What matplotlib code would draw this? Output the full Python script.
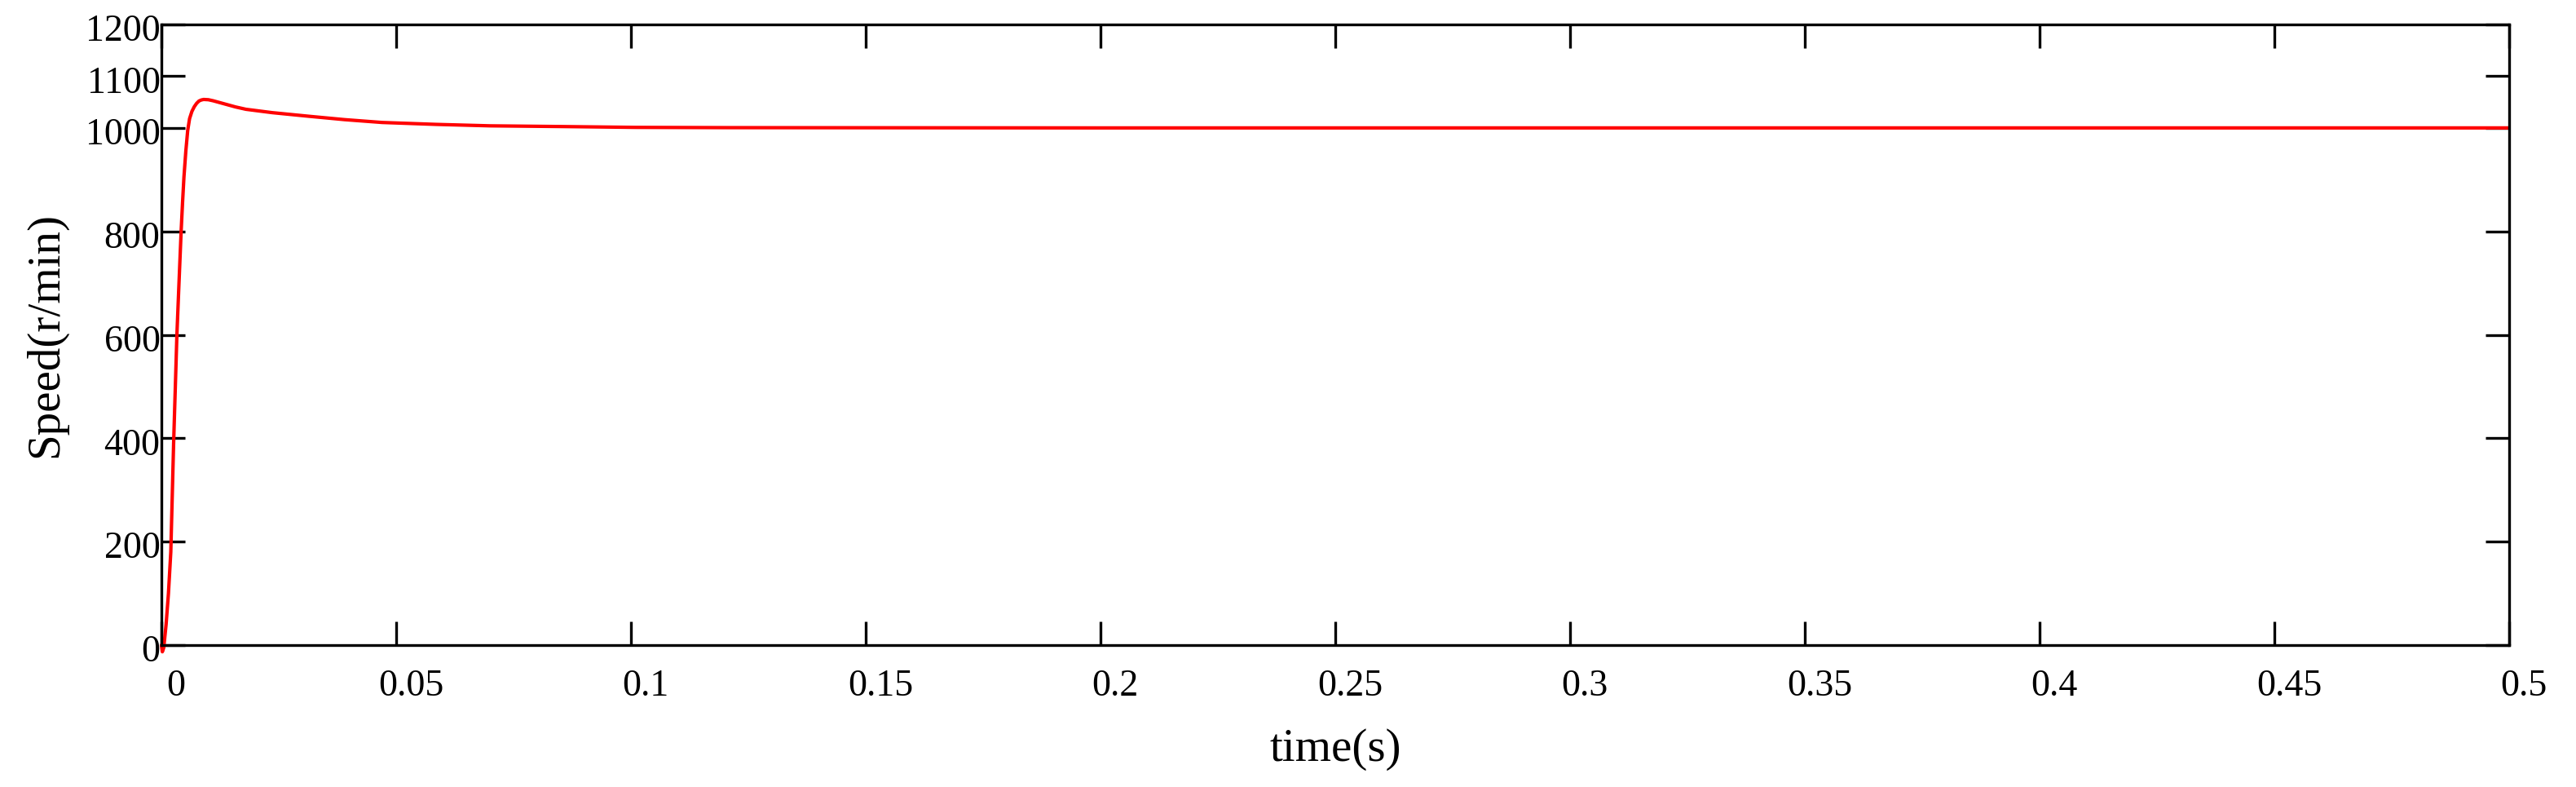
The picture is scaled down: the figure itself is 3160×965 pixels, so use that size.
import matplotlib
matplotlib.use("Agg")
import matplotlib.pyplot as plt
import matplotlib.transforms as mtransforms

# ---- data ----
time_s = [0.0, 0.0002, 0.0005, 0.001, 0.0015, 0.002, 0.0026, 0.0033, 0.0037,
          0.0042, 0.0045, 0.0048, 0.0052, 0.0056, 0.0060, 0.0065, 0.0070,
          0.0075, 0.0080, 0.0085, 0.0090, 0.0100, 0.0110, 0.0120, 0.0130,
          0.0140, 0.0158, 0.0180, 0.0236, 0.0314, 0.0390, 0.0470, 0.0585,
          0.0700, 0.0856, 0.1010, 0.1210, 0.20, 0.30, 0.40, 0.50]
speed_rpm = [0, -13, -5, 40, 100, 180, 390, 600, 690,
             800, 855, 905, 955, 995, 1018, 1032, 1041,
             1047.5, 1052, 1054, 1055, 1054.5, 1052.5, 1050, 1047.5,
             1045, 1040.5, 1036, 1029.5, 1022.5, 1016, 1010.5, 1006.8,
             1004, 1002.6, 1001, 1000.5, 1000, 1000, 1000, 1000]

x_ticks = [0, 0.05, 0.1, 0.15, 0.2, 0.25, 0.3, 0.35, 0.4, 0.45, 0.5]
x_tick_labels = ["0", "0.05", "0.1", "0.15", "0.2", "0.25", "0.3", "0.35",
                 "0.4", "0.45", "0.5"]
y_ticks = [0, 200, 400, 600, 800, 1000, 1100, 1200]
y_tick_labels = ["0", "200", "400", "600", "800", "1000", "1100", "1200"]

x_label = "time(s)"
y_label = "Speed(r/min)"

# ---- figure ----
W, H, DPI = 3160, 965, 100
fig = plt.figure(figsize=(W / DPI, H / DPI), dpi=DPI)
plt.rcParams['font.family'] = ['Liberation Serif', 'DejaVu Serif']

left, right, top, bottom = 198, 3078, 30, 791
ax = fig.add_axes([left / W, 1 - bottom / H, (right - left) / W, (bottom - top) / H])

ax.plot(time_s, speed_rpm, color='#ff0000', linewidth=3.0, clip_on=False,
        solid_joinstyle='round', solid_capstyle='round')

ax.set_xlim(0, 0.5)
ax.set_ylim(0, 1200)
ax.set_xticks(x_ticks)
ax.set_xticklabels(x_tick_labels)
ax.set_yticks(y_ticks)
ax.set_yticklabels(y_tick_labels)

for s in ax.spines.values():
    s.set_linewidth(2.4)
    s.set_color('black')

ax.tick_params(axis='both', which='major', direction='in', length=21,
               width=2.4, labelsize=33, top=True, right=True, color='black')
ax.tick_params(axis='x', pad=21)
ax.tick_params(axis='y', pad=1)

# small offsets to mimic original label placement
dx = mtransforms.ScaledTranslation(18 / DPI, 0, fig.dpi_scale_trans)
for lab in ax.get_xticklabels():
    lab.set_transform(lab.get_transform() + dx)
dy = mtransforms.ScaledTranslation(0, -4 / DPI, fig.dpi_scale_trans)
for lab in ax.get_yticklabels():
    lab.set_transform(lab.get_transform() + dy)

ax.set_xlabel(x_label, fontsize=41, labelpad=22)
ax.set_ylabel(y_label, fontsize=41, labelpad=16)

fig.savefig("out.png", dpi=DPI, facecolor='white')
